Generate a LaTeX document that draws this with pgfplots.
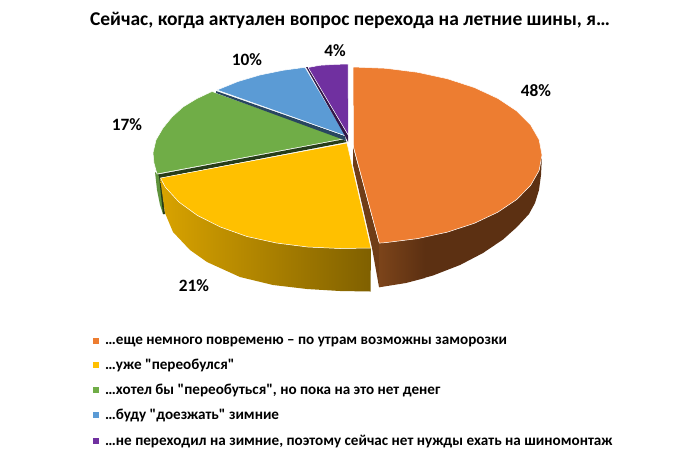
\documentclass[border=0pt]{standalone}
\usepackage{pgfplots}
\pgfplotsset{compat=1.18}
\usepackage{fontspec}
\setmainfont{Carlito}
\newfontfamily\cf{Carlito}
\definecolor{cO}{HTML}{ED7D31}
\definecolor{cY}{HTML}{FFC000}
\definecolor{cG}{HTML}{70AD47}
\definecolor{cB}{HTML}{5B9BD5}
\definecolor{cP}{HTML}{7030A0}
\definecolor{cSL}{HTML}{7C441A}
\definecolor{cSR}{HTML}{5C3012}
\begin{document}
\begin{tikzpicture}
\path[use as bounding box] (0,0) rectangle (700pt,456pt);
\begin{axis}[
  at={(0,0)}, anchor=south west,
  scale only axis, width=700pt, height=456pt,
  xmin=0, xmax=700, ymin=0, ymax=456, y dir=reverse,
  hide axis, clip=false,
  legend style={at={(axis cs:93,334.5)}, anchor=north west, draw=none, fill=none,
    font=\cf\fontsize{15.15}{17}\selectfont\bfseries, row sep=9.3pt, inner sep=0pt},
  legend cell align=left,
]
\addlegendimage{legend image code/.code={\fill[cO,draw=none] (0pt,-3pt) rectangle (6pt,3pt);\path[draw=none] (0pt,0pt) -- (10pt,0pt);}}
\addlegendentry{…еще немного повременю – по утрам возможны заморозки}
\addlegendimage{legend image code/.code={\fill[cY,draw=none] (0pt,-3pt) rectangle (6pt,3pt);\path[draw=none] (0pt,0pt) -- (10pt,0pt);}}
\addlegendentry{…уже "переобулся"}
\addlegendimage{legend image code/.code={\fill[cG,draw=none] (0pt,-3pt) rectangle (6pt,3pt);\path[draw=none] (0pt,0pt) -- (10pt,0pt);}}
\addlegendentry{…хотел бы "переобуться", но пока на это нет денег}
\addlegendimage{legend image code/.code={\fill[cB,draw=none] (0pt,-3pt) rectangle (6pt,3pt);\path[draw=none] (0pt,0pt) -- (10pt,0pt);}}
\addlegendentry{…буду "доезжать" зимние}
\addlegendimage{legend image code/.code={\fill[cP,draw=none] (0pt,-3pt) rectangle (6pt,3pt);\path[draw=none] (0pt,0pt) -- (10pt,0pt);}}
\addlegendentry{…не переходил на зимние, поэтому сейчас нет нужды ехать на шиномонтаж}

% green outer side
\addplot[draw=none, fill=cG!85!black] coordinates {(155,172)(157,190)(160,205)(163,214)(164,214)(160,176)};
\addplot[draw=none, fill=black!65!cG] coordinates {(159,176)(161,176)(165,214)(163,214)};
% brown strip of the orange slice
\addplot[draw=none, fill=cSL!90!black] coordinates {(353,147)(379,243)(379,287)(372,248)(353,165)};
% orange outer side
\addplot[draw=none, fill=cSR] coordinates {(424,278)(433,275.5)(460,265)(483,253)(503,239.5)(517,227)(529,214)(535,203)(539,190)(541,175)(542,155)(539.1,170.5)(530.6,185.4)(516.7,199.5)(497.8,212.2)(474.5,223.2)(447.5,232.1)(424,237)};
\addplot[draw=none, left color=cSL, right color=cSR] coordinates {(379,243.1)(379,287.3)(406,283)(425,278)(425,237)(417.6,238.6)(385.8,242.6)};
% orange face
\addplot[draw=white, line width=0.5pt, fill=cO] coordinates {(353,67)(385.8,68.3)(417.6,72.3)(447.5,78.8)(474.5,87.6)(497.8,98.4)(516.7,111)(530.6,124.9)(539.1,139.7)(542,155)(539.1,170.5)(530.6,185.4)(516.7,199.5)(497.8,212.2)(474.5,223.2)(447.5,232.1)(417.6,238.6)(385.8,242.6)(379.3,243.1)(353.5,147)(353,67)};
% yellow outer side
\addplot[draw=none, left color=cY!85!black, right color=cY!50!black] coordinates {(160,178)(165,213)(173,232)(190,250)(207,262)(240,277)(273,285)(307,289)(340,291)(370.5,291.5)(371,248)(340,248.5)(307.7,247)(276.4,243)(247,236.5)(220.4,227)(197.5,215.5)(178.9,202)(165.2,187)};
% green face
\addplot[draw=white, line width=0.5pt, fill=cG] coordinates {(212,91.5)(197,98.5)(183,107)(172,117)(163,128)(156,140)(153,153)(154,163)(157,174)(343,139)(343.5,138)(212,91.5)};
% dark strip below green
\addplot[draw=none, fill=black!65!cG] coordinates {(158,174.5)(343,139.5)(347,142)(160,178)};
% yellow face
\addplot[draw=white, line width=0.5pt, fill=cY] coordinates {(347,143)(371,248)(340,248.5)(307.7,247)(276.4,243)(247,236.5)(220.4,227)(197.5,215.5)(178.9,202)(165.2,187)(160.5,178)(347,143)};
% dark strip below blue
\addplot[draw=none, fill=cB!45!black] coordinates {(216,91)(345,136)(346,141)(343,139.5)(216,93)};
% blue face
\addplot[draw=white, line width=0.5pt, fill=cB] coordinates {(217,90)(238,81.5)(260,75)(283,70.3)(305,67.3)(346,136)(217,90)};
% dark strip beside purple
\addplot[draw=none, fill=cP!45!black] coordinates {(306,67)(308,67)(348,135)(348,142)(345,136)};
% purple face
\addplot[draw=white, line width=0.5pt, fill=cP] coordinates {(308,67.5)(320,65.3)(335,64.4)(348,64)(348.5,135.5)(308,67.5)};

\node[font=\cf\fontsize{19.5}{22}\selectfont\bfseries] at (axis cs:350,20) {Сейчас, когда актуален вопрос перехода на летние шины, я…};
\node[font=\cf\fontsize{17.3}{19}\selectfont\bfseries] at (axis cs:536,91) {48\%};
\node[font=\cf\fontsize{17.3}{19}\selectfont\bfseries] at (axis cs:194,286) {21\%};
\node[font=\cf\fontsize{17.3}{19}\selectfont\bfseries] at (axis cs:127,125) {17\%};
\node[font=\cf\fontsize{17.3}{19}\selectfont\bfseries] at (axis cs:247,60) {10\%};
\node[font=\cf\fontsize{17.3}{19}\selectfont\bfseries] at (axis cs:335,51) {4\%};
\end{axis}
\end{tikzpicture}
\end{document}
